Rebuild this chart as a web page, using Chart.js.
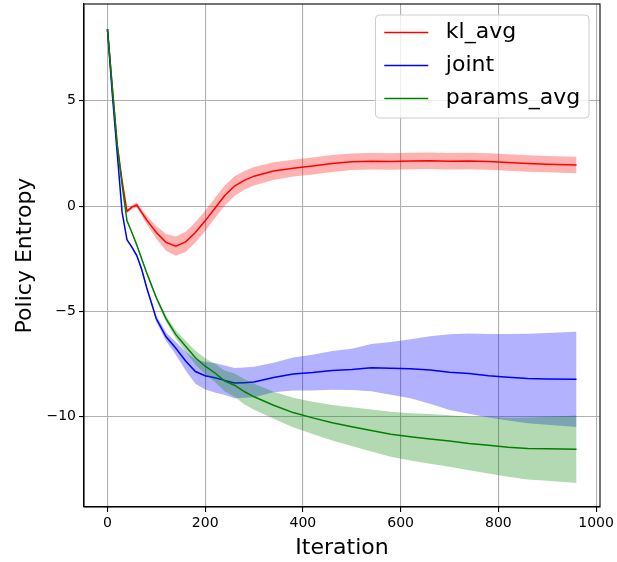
<!DOCTYPE html>
<html>
<head>
<meta charset="utf-8">
<script src="https://cdn.jsdelivr.net/npm/chart.js@4.4.0/dist/chart.umd.min.js"></script>
<style>
  body { margin: 0; background: #fff; }
  #wrap { width: 617px; height: 562px; }
</style>
</head>
<body>
<div id="wrap"><canvas id="entropyChart" width="617" height="562"></canvas></div>
<script>
const iters = [0, 10, 20, 30, 40, 50, 60, 70, 80, 90, 100, 120, 140, 160, 180, 200, 220, 240, 260, 280,
  300, 340, 380, 420, 460, 500, 540, 580, 620, 660, 700, 740, 780, 820, 860, 900, 960];

// kl_avg
const klMean = [8.4, 5.6, 2.9, 1.2, -0.25, -0.05, 0.05, -0.3, -0.65, -0.95, -1.25, -1.72, -1.9, -1.7, -1.25, -0.7, -0.1, 0.5, 0.95, 1.22,
  1.42, 1.66, 1.8, 1.9, 2.02, 2.1, 2.13, 2.12, 2.14, 2.15, 2.13, 2.14, 2.12, 2.07, 2.02, 1.99, 1.95];
const klStd = [0.05, 0.06, 0.07, 0.08, 0.08, 0.1, 0.12, 0.15, 0.2, 0.25, 0.3, 0.4, 0.46, 0.48, 0.48, 0.48, 0.48, 0.48, 0.47, 0.45,
  0.44, 0.42, 0.4, 0.4, 0.4, 0.39, 0.39, 0.39, 0.39, 0.39, 0.39, 0.39, 0.39, 0.39, 0.39, 0.39, 0.39];

// joint
const jointMean = [8.4, 5.3, 2.5, -0.3, -1.6, -1.95, -2.35, -3.0, -3.85, -4.6, -5.35, -6.2, -6.75, -7.35, -7.85, -8.05, -8.15, -8.27, -8.4, -8.38,
  -8.35, -8.13, -7.97, -7.9, -7.8, -7.75, -7.67, -7.7, -7.72, -7.78, -7.88, -7.95, -8.05, -8.12, -8.18, -8.2, -8.22];
const jointStd = [0.05, 0.05, 0.05, 0.06, 0.06, 0.07, 0.08, 0.09, 0.1, 0.12, 0.15, 0.2, 0.3, 0.45, 0.58, 0.65, 0.7, 0.7, 0.72, 0.72,
  0.72, 0.7, 0.78, 0.85, 0.92, 0.98, 1.12, 1.25, 1.4, 1.6, 1.8, 1.9, 1.98, 2.05, 2.12, 2.18, 2.26];

// params_avg
const paramsMean = [8.4, 5.6, 2.9, 1.0, -0.7, -1.25, -1.85, -2.5, -3.15, -3.75, -4.35, -5.35, -6.1, -6.65, -7.2, -7.6, -7.92, -8.3, -8.5, -8.8,
  -9.05, -9.45, -9.8, -10.05, -10.28, -10.47, -10.65, -10.83, -10.95, -11.05, -11.15, -11.27, -11.35, -11.44, -11.5, -11.52, -11.54];
const paramsStd = [0.05, 0.05, 0.05, 0.05, 0.05, 0.05, 0.06, 0.07, 0.08, 0.09, 0.1, 0.14, 0.2, 0.26, 0.33, 0.38, 0.43, 0.5, 0.55, 0.6,
  0.62, 0.64, 0.7, 0.76, 0.84, 0.92, 1.0, 1.07, 1.12, 1.18, 1.22, 1.27, 1.34, 1.4, 1.47, 1.52, 1.6];

const xTicks = [0, 200, 400, 600, 800, 1000];
const yTicks = [-10, -5, 0, 5];

const FONT = 'DejaVu Sans';

function pts(xs, ys) {
  return xs.map((x, i) => ({x: x, y: ys[i]}));
}
function shift(mean, std, sign) {
  return mean.map((m, i) => m + sign * std[i]);
}
// upper edge, lower edge (filled to upper), then the mean line
function series(label, color, fillColor, mean, std, order) {
  return [
    {label: label + ' hi', isBand: true, data: pts(iters, shift(mean, std, 1)), borderWidth: 0, borderColor: 'transparent',
      pointRadius: 0, fill: false, order: order + 1},
    {label: label + ' lo', isBand: true, data: pts(iters, shift(mean, std, -1)), borderWidth: 0, borderColor: 'transparent',
      backgroundColor: fillColor, pointRadius: 0, fill: '-1', order: order + 1},
    {label: label, data: pts(iters, mean), borderColor: color, borderWidth: 1.5, pointRadius: 0, fill: false, order: order}
  ];
}

const datasets = [].concat(
  series('kl_avg', '#ff0000', 'rgba(255,0,0,0.3)', klMean, klStd, 5),
  series('joint', '#0000ff', 'rgba(0,0,255,0.3)', jointMean, jointStd, 3),
  series('params_avg', '#008000', 'rgba(0,128,0,0.3)', paramsMean, paramsStd, 1)
);

const minus = v => String(v).replace('-', '\u2212');

// top + right spines
const boxFrame = {
  id: 'boxFrame',
  afterDatasetsDraw(chart) {
    const {ctx, chartArea: a} = chart;
    ctx.save();
    ctx.strokeStyle = '#000';
    ctx.lineWidth = 1.1;
    ctx.strokeRect(a.left, a.top, a.right - a.left, a.bottom - a.top);
    ctx.restore();
  }
};

// legend inside the axes, upper right
const insideLegend = {
  id: 'insideLegend',
  afterDraw(chart) {
    const {ctx, chartArea} = chart;
    const items = chart.data.datasets.filter(d => !d.isBand);
    const fs = 22, pad = 0.4 * fs, handle = 2 * fs, gap = 0.8 * fs, rowH = 33;
    ctx.save();
    ctx.font = fs + 'px "' + FONT + '"';
    const textW = Math.max(...items.map(d => ctx.measureText(d.label).width));
    const w = pad * 2 + handle + gap + textW;
    const h = 103;
    const right = chartArea.right - 11, top = chartArea.top + 11;
    const left = right - w;
    ctx.beginPath();
    ctx.roundRect(left, top, w, h, 4);
    ctx.fillStyle = 'rgba(255,255,255,0.8)';
    ctx.fill();
    ctx.strokeStyle = '#cccccc';
    ctx.lineWidth = 1;
    ctx.stroke();
    items.forEach((d, i) => {
      const y = top + 17.5 + i * rowH;
      ctx.beginPath();
      ctx.moveTo(left + pad, y);
      ctx.lineTo(left + pad + handle, y);
      ctx.strokeStyle = d.borderColor;
      ctx.lineWidth = 1.5;
      ctx.stroke();
      ctx.fillStyle = '#000';
      ctx.textBaseline = 'middle';
      ctx.textAlign = 'left';
      ctx.fillText(d.label, left + pad + handle + gap, y);
    });
    ctx.restore();
  }
};

const gridOpts = {color: '#b0b0b0', lineWidth: 1.1, tickColor: '#000', tickLength: 5, tickWidth: 1.1};

new Chart(document.getElementById('entropyChart'), {
  type: 'line',
  data: {datasets: datasets},
  options: {
    responsive: false,
    animation: false,
    devicePixelRatio: 1,
    layout: {padding: {left: 0, right: 17, top: 4, bottom: 0}},
    elements: {line: {tension: 0}},
    plugins: {legend: {display: false}, tooltip: {enabled: false}},
    scales: {
      x: {
        type: 'linear', min: -48, max: 1008,
        afterBuildTicks: s => { s.ticks = xTicks.map(v => ({value: v})); },
        afterFit: s => { s.height = 55; s.paddingLeft = 0; s.paddingRight = 0; },
        ticks: {font: {family: FONT, size: 14}, color: '#000', padding: 3, maxRotation: 0, autoSkip: false, callback: minus},
        grid: gridOpts,
        border: {color: '#000', width: 1.1},
        title: {display: true, text: 'Iteration', color: '#000', font: {family: FONT, size: 22}, padding: {top: 0, bottom: 1}}
      },
      y: {
        type: 'linear', min: -14.28, max: 9.59,
        afterBuildTicks: s => { s.ticks = yTicks.map(v => ({value: v})); },
        afterFit: s => { s.width = 84; s.paddingTop = 0; s.paddingBottom = 0; },
        ticks: {font: {family: FONT, size: 14}, color: '#000', padding: 3, autoSkip: false, callback: minus},
        grid: gridOpts,
        border: {color: '#000', width: 1.1},
        title: {display: true, text: 'Policy Entropy', color: '#000', font: {family: FONT, size: 22}, padding: {top: 12, bottom: 0}}
      }
    }
  },
  plugins: [boxFrame, insideLegend]
});
</script>
</body>
</html>
